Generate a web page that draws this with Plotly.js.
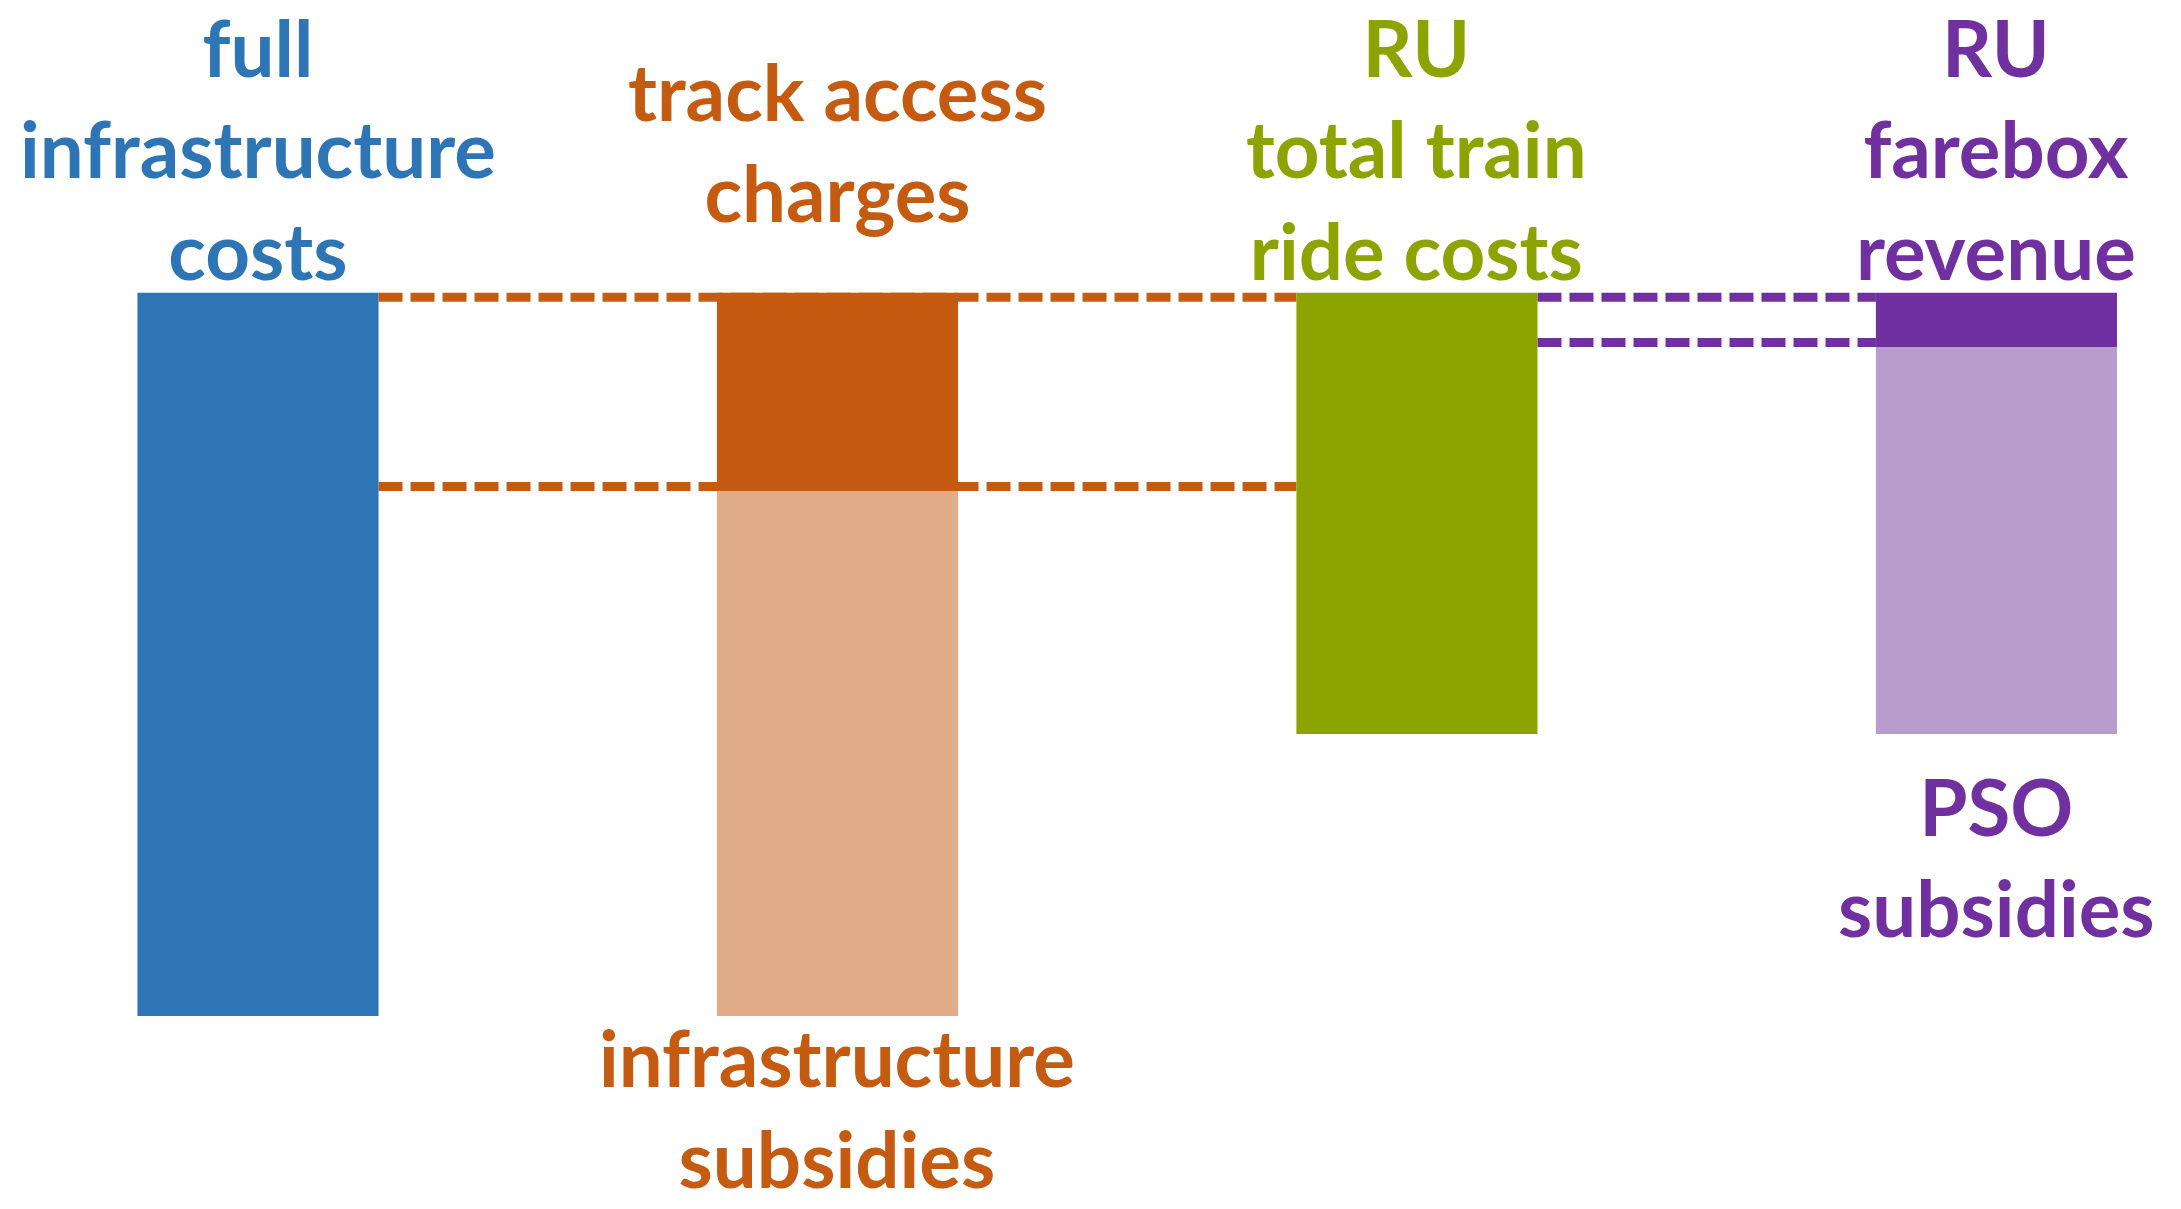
<!DOCTYPE html>
<html>
<head>
<meta charset="utf-8">
<script src="https://cdn.plot.ly/plotly-3.0.1.min.js"></script>
<style>html,body{margin:0;padding:0;background:#fff;}#chart{width:2181px;height:1209px;}</style>
</head>
<body>
<div id="chart"></div>
<script>
// Data (share of full infrastructure costs, measured top-down)
const categories = ["full infrastructure costs", "track access charges / infrastructure subsidies", "RU total train ride costs", "RU farebox revenue / PSO subsidies"];
const fullInfraCosts = 100;
const trackAccessCharges = 27.4;
const infraSubsidies = 72.6;
const ruTotalCosts = 61;
const fareboxRevenue = 7.5;
const psoSubsidies = 53.5;

const topLabels = ["full<br>infrastructure<br>costs", "track access<br>charges", "RU<br>total train<br>ride costs", "RU<br>farebox<br>revenue"];
const bottomLabels = ["infrastructure<br>subsidies", "PSO<br>subsidies"];

const BLUE = "#2E75B6", ORANGE = "#C55A11", LORANGE = "#E1AC88", GREEN = "#8BA400", PURPLE = "#7030A0", LPURPLE = "#B99CCE";
const BW = 0.416;

const traces = [
  {type: "bar", x: [categories[0]], y: [fullInfraCosts], base: [0], marker: {color: BLUE}, width: BW},
  {type: "bar", x: [categories[1]], y: [trackAccessCharges], base: [0], marker: {color: ORANGE}, width: BW},
  {type: "bar", x: [categories[1]], y: [infraSubsidies], base: [trackAccessCharges], marker: {color: LORANGE}, width: BW},
  {type: "bar", x: [categories[2]], y: [ruTotalCosts], base: [0], marker: {color: GREEN}, width: BW},
  {type: "bar", x: [categories[3]], y: [fareboxRevenue], base: [0], marker: {color: PURPLE}, width: BW},
  {type: "bar", x: [categories[3]], y: [psoSubsidies], base: [fareboxRevenue], marker: {color: LPURPLE}, width: BW}
];
traces.forEach(t => { t.hoverinfo = "skip"; t.showlegend = false; t.marker.line = {width: 0}; });

function dashLine(xa, xb, yv, off, color) {
  return {type: "line", layer: "below", xref: "x", yref: "y", ysizemode: "pixel", yanchor: yv,
          x0: xa, x1: xb, y0: off, y1: off, line: {color: color, width: 9, dash: "24px,8px"}};
}
const h = BW / 2;
const shapes = [
  dashLine(0 + h, 2 - h, 0, -4.5, ORANGE),
  dashLine(0 + h, 2 - h, trackAccessCharges, 4.5, ORANGE),
  dashLine(2 + h, 3 - h, 0, -4.5, PURPLE),
  dashLine(2 + h, 3 - h, fareboxRevenue, 4.5, PURPLE)
];

const FONT = {family: "Lato, 'Open Sans', sans-serif", size: 78, weight: 700};
function ann(xi, yv, text, color, anchor, yshift) {
  return {x: xi, y: yv, xref: "x", yref: "y", text: text, showarrow: false, align: "center",
          xanchor: "center", yanchor: anchor, yshift: yshift, borderpad: 0,
          font: Object.assign({}, FONT, {color: color})};
}
const annotations = [
  ann(0, 0, topLabels[0], BLUE, "bottom", -5),
  ann(1, 0, topLabels[1], ORANGE, "bottom", 53),
  ann(2, 0, topLabels[2], GREEN, "bottom", -5),
  ann(3, 0, topLabels[3], PURPLE, "bottom", -5),
  ann(1, fullInfraCosts, bottomLabels[0], ORANGE, "top", 7),
  ann(3, fareboxRevenue + psoSubsidies, bottomLabels[1], PURPLE, "top", -24)
];

const layout = {
  width: 2181, height: 1209,
  margin: {l: 0, r: 0, t: 0, b: 0},
  paper_bgcolor: "#ffffff", plot_bgcolor: "#ffffff",
  barmode: "overlay",
  xaxis: {type: "category", range: [-0.4452, 3.3185], visible: false, fixedrange: true},
  yaxis: {range: [126.7, -40.5], visible: false, fixedrange: true},
  shapes: shapes,
  annotations: annotations,
  showlegend: false
};
Plotly.newPlot("chart", traces, layout, {displayModeBar: false, staticPlot: true});
</script>
</body>
</html>
